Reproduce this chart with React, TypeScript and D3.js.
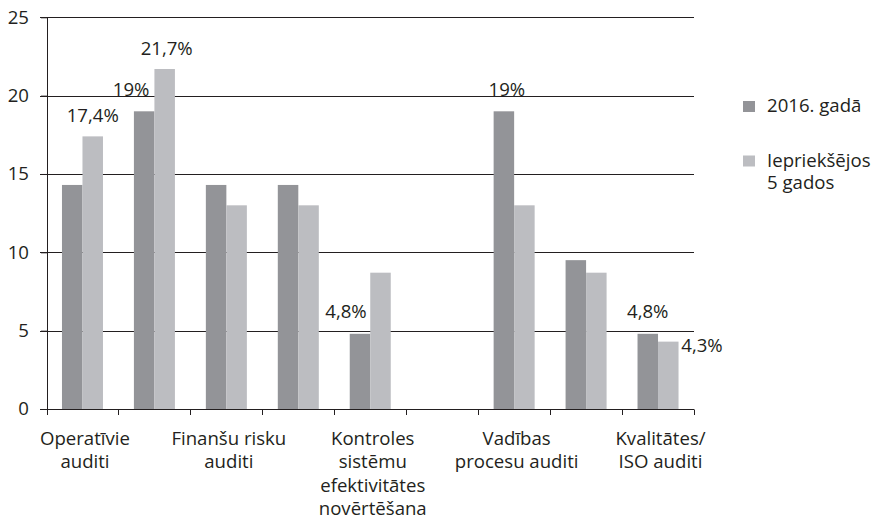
import { useEffect, useRef } from "react";
import * as d3 from "d3";

// category labels (only every other group is labelled in the source)
const categoryLabels = [
  "Operatīvie\nauditi",
  "",
  "Finanšu risku\nauditi",
  "",
  "Kontroles\nsistēmu\nefektivitātes\nnovērtēšana",
  "",
  "Vadības\nprocesu auditi",
  "",
  "Kvalitātes/\nISO auditi",
];

const series2016 = [14.3, 19.0, 14.3, 14.3, 4.8, 0, 19.0, 9.5, 4.8];
const seriesPrev5 = [17.4, 21.7, 13.0, 13.0, 8.7, 0, 13.0, 8.7, 4.3];
const seriesNames = ["2016. gadā", "Iepriekšējos\n5 gados"];
const yTicks = [0, 5, 10, 15, 20, 25];

// value labels: category index, series index, text
const valueLabels: { cat: number; s: number; text: string }[] = [
  { cat: 0, s: 1, text: "17,4%" },
  { cat: 1, s: 0, text: "19%" },
  { cat: 1, s: 1, text: "21,7%" },
  { cat: 4, s: 0, text: "4,8%" },
  { cat: 6, s: 0, text: "19%" },
  { cat: 8, s: 0, text: "4,8%" },
  { cat: 8, s: 1, text: "4,3%" },
];
// placement tweaks for the labels, same order
const labelNudges = [
  { dx: 0, dy: -14, anchor: "middle" },
  { dx: -13, dy: -15, anchor: "middle" },
  { dx: 2, dy: -14, anchor: "middle" },
  { dx: -14, dy: -16, anchor: "middle" },
  { dx: 3, dy: -15, anchor: "middle" },
  { dx: 0, dy: -16, anchor: "middle" },
  { dx: 13, dy: 10, anchor: "start" },
];

const colors = ["#939498", "#bcbdc1"];
const ink = "#231f20";
const font = "'Open Sans', sans-serif";
const fontSize = 18.6;

export default function App() {
  const svgRef = useRef<SVGSVGElement>(null);

  useEffect(() => {
    document.body.style.margin = "0";
    const svg = svgRef.current;
    if (!svg) return;
    const sel = d3.select(svg);
    sel.selectAll("*").remove();

    const left = 46.5;
    const right = 694;
    const top = 17.3;
    const bottom = 409;

    const idx = categoryLabels.map((_, i) => String(i));
    const x = d3
      .scaleBand<string>()
      .domain(idx)
      .range([left, right])
      .paddingInner(0.43)
      .paddingOuter(0.215);
    const xs = d3
      .scaleBand<string>()
      .domain(["0", "1"])
      .range([0, x.bandwidth()]);
    const y = d3.scaleLinear().domain([0, 25]).range([bottom, top]);

    const crisp = (v: number) => Math.round(v) + 0.5;

    // gridlines
    sel
      .append("g")
      .selectAll("line")
      .data(yTicks.filter((t) => t > 0))
      .enter()
      .append("line")
      .attr("x1", 40)
      .attr("x2", right)
      .attr("y1", (d) => crisp(y(d)))
      .attr("y2", (d) => crisp(y(d)))
      .attr("stroke", ink)
      .attr("stroke-width", 1);

    // bars
    const allSeries = [series2016, seriesPrev5];
    const bars = allSeries.flatMap((vals, s) =>
      vals.map((v, i) => ({ v, i, s }))
    );
    sel
      .append("g")
      .selectAll("rect")
      .data(bars.filter((b) => b.v > 0))
      .enter()
      .append("rect")
      .attr("x", (d) => (x(String(d.i)) || 0) + (xs(String(d.s)) || 0))
      .attr("y", (d) => y(d.v))
      .attr("width", xs.bandwidth())
      .attr("height", (d) => bottom - y(d.v))
      .attr("fill", (d) => colors[d.s]);

    // y axis
    const yAxis = sel
      .append("g")
      .attr("transform", `translate(${crisp(left) - 0.5},0)`)
      .call(d3.axisLeft(y).tickValues(yTicks).tickSize(6).tickPadding(12));
    yAxis.select(".domain").remove();
    yAxis.selectAll(".tick line").attr("stroke", ink);
    yAxis
      .selectAll(".tick text")
      .attr("font-family", font)
      .attr("font-size", fontSize)
      .attr("fill", ink);
    yAxis
      .append("line")
      .attr("x1", 0.5)
      .attr("x2", 0.5)
      .attr("y1", crisp(top))
      .attr("y2", crisp(bottom))
      .attr("stroke", ink);

    // x axis line and ticks at band edges
    sel
      .append("line")
      .attr("x1", 40)
      .attr("x2", right)
      .attr("y1", crisp(bottom))
      .attr("y2", crisp(bottom))
      .attr("stroke", ink);
    const edges = idx.map((c) => (x(c) || 0) - x.step() * 0.215);
    edges.push(right);
    sel
      .append("g")
      .selectAll("line")
      .data(edges)
      .enter()
      .append("line")
      .attr("x1", (d) => crisp(d))
      .attr("x2", (d) => crisp(d))
      .attr("y1", crisp(bottom))
      .attr("y2", bottom + 6)
      .attr("stroke", ink);

    // category labels
    const catG = sel
      .append("g")
      .attr("font-family", font)
      .attr("font-size", fontSize)
      .attr("fill", ink)
      .attr("text-anchor", "middle");
    categoryLabels.forEach((lab, i) => {
      if (!lab) return;
      const cx = (x(String(i)) || 0) + x.bandwidth() / 2 + 2.5;
      const t = catG.append("text").attr("x", cx).attr("y", 445);
      lab.split("\n").forEach((line, k) => {
        t.append("tspan")
          .attr("x", cx)
          .attr("y", 445 + k * 23.3)
          .text(line);
      });
    });

    // value labels
    const valG = sel
      .append("g")
      .attr("font-family", font)
      .attr("font-size", fontSize)
      .attr("fill", ink);
    valueLabels.forEach((lab, k) => {
      const nudge = labelNudges[k];
      const v = allSeries[lab.s][lab.cat];
      const cx =
        (x(String(lab.cat)) || 0) + (xs(String(lab.s)) || 0) + xs.bandwidth() / 2;
      valG
        .append("text")
        .attr("x", cx + nudge.dx)
        .attr("y", y(v) + nudge.dy)
        .attr("text-anchor", nudge.anchor)
        .text(lab.text);
    });

    // legend
    const legend = sel
      .append("g")
      .attr("font-family", font)
      .attr("font-size", fontSize)
      .attr("fill", ink);
    seriesNames.forEach((name, s) => {
      const base = 112 + s * 54.5;
      legend
        .append("rect")
        .attr("x", 743)
        .attr("y", base - 11)
        .attr("width", 12)
        .attr("height", 11)
        .attr("fill", colors[s]);
      const t = legend.append("text");
      name.split("\n").forEach((line, k) => {
        t.append("tspan")
          .attr("x", 767)
          .attr("y", base + k * 22.5)
          .text(line);
      });
    });
  }, []);

  return <svg ref={svgRef} width={875} height={522} style={{ display: "block" }} />;
}
